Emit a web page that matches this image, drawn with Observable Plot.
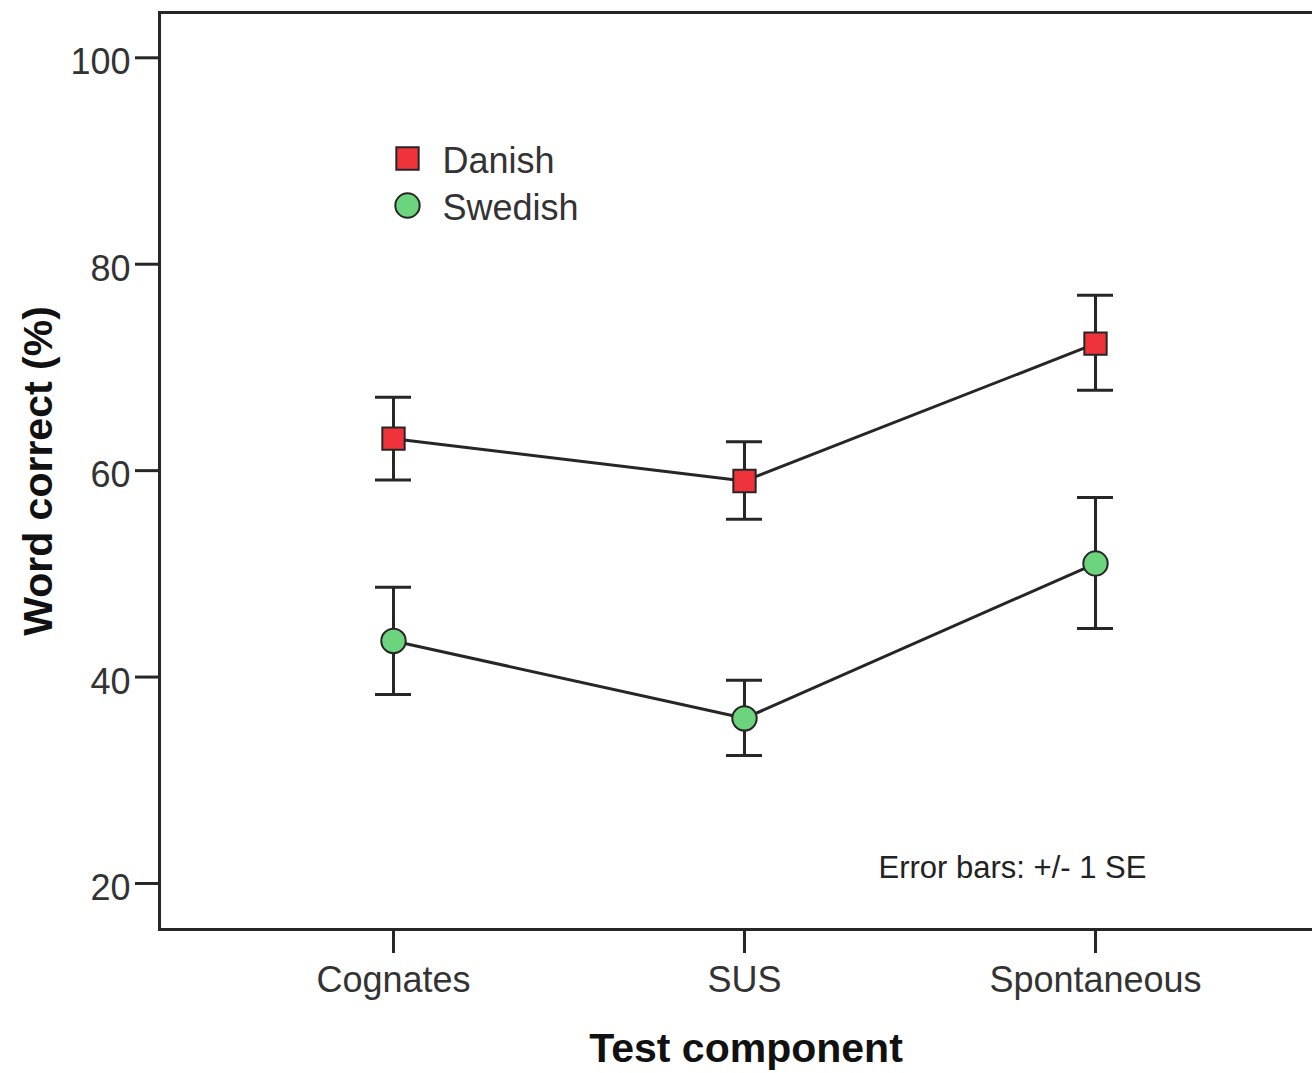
<!DOCTYPE html>
<html>
<head>
<meta charset="utf-8">
<script src="https://cdn.jsdelivr.net/npm/d3@7"></script>
<script src="https://cdn.jsdelivr.net/npm/@observablehq/plot@0.6"></script>
<style>
  html, body { margin: 0; padding: 0; background: #fff; }
  #chart svg { display: block; }
</style>
</head>
<body>
<div id="chart"></div>
<script>
// ---- data ----
const components = ["Cognates", "SUS", "Spontaneous"];
const groups = ["Danish", "Swedish"];
const danishMean  = [63.1, 59.0, 72.3];
const danishUpper = [67.1, 62.8, 77.0];
const danishLower = [59.1, 55.3, 67.8];
const swedishMean  = [43.5, 36.0, 51.0];
const swedishUpper = [48.7, 39.7, 57.4];
const swedishLower = [38.3, 32.4, 44.7];
const yTicks = [20, 40, 60, 80, 100];
const yTitle = "Word correct (%)";
const xTitle = "Test component";
const note = "Error bars: +/- 1 SE";

const colors = {Danish: "#f0333b", Swedish: "#6bd47d"};
const symbols = {Danish: "square", Swedish: "circle"};
const radii = {Danish: 12.6, Swedish: 12.2};

const rows = [];
components.forEach((c, i) => {
  rows.push({component: c, group: "Danish", mean: danishMean[i], lo: danishLower[i], hi: danishUpper[i]});
  rows.push({component: c, group: "Swedish", mean: swedishMean[i], lo: swedishLower[i], hi: swedishUpper[i]});
});

const ink = "#262626";
const font = "'Liberation Sans', Arial, sans-serif";

const dataDots = groups.map(g =>
  Plot.dot(rows.filter(d => d.group === g), {x: "component", y: "mean", symbol: symbols[g], r: radii[g],
    fill: colors[g], stroke: ink, strokeWidth: 2})
);

const legendMarks = groups.flatMap((g, i) => [
  Plot.dot([g], {frameAnchor: "top-left", dx: 248, dy: 146 + i * 47, symbol: symbols[g], r: radii[g],
    fill: colors[g], stroke: ink, strokeWidth: 2}),
  Plot.text([g], {frameAnchor: "top-left", dx: 283, dy: 149 + i * 47, text: d => d, textAnchor: "start",
    lineAnchor: "middle", fontSize: 36, fill: "#333"})
]);

const chart = Plot.plot({
  width: 1312,
  height: 1073,
  marginLeft: 159,
  marginRight: -20,
  marginTop: 12,
  marginBottom: 144,
  style: {fontFamily: font, background: "#fff", color: "#333"},
  x: {type: "point", domain: components, range: [393, 1095], padding: 0},
  y: {domain: [15.54, 104.39]},
  marks: [
    Plot.frame({stroke: ink, strokeWidth: 3}),
    Plot.axisY({ticks: yTicks, tickSize: 24, tickPadding: 5, fontSize: 36, label: null, strokeWidth: 3, stroke: ink, fill: "#333"}),
    Plot.axisX({tickSize: 24, tickPadding: 13, fontSize: 36, label: null, strokeWidth: 3, stroke: ink, fill: "#333"}),
    Plot.line(rows, {x: "component", y: "mean", z: "group", stroke: ink, strokeWidth: 3}),
    Plot.ruleX(rows, {x: "component", y1: "lo", y2: "hi", stroke: ink, strokeWidth: 3}),
    Plot.ruleY(rows, {x1: "component", x2: "component", y: "hi", insetLeft: -18, insetRight: -18, stroke: ink, strokeWidth: 3}),
    Plot.ruleY(rows, {x1: "component", x2: "component", y: "lo", insetLeft: -18, insetRight: -18, stroke: ink, strokeWidth: 3}),
    ...dataDots,
    ...legendMarks,
    Plot.text([yTitle], {frameAnchor: "left", dx: -121, rotate: -90, text: d => d, textAnchor: "middle", lineAnchor: "middle",
      fontSize: 41, fontWeight: "bold", fill: "#111"}),
    Plot.text([xTitle], {frameAnchor: "bottom", dy: 119, text: d => d, textAnchor: "middle", lineAnchor: "middle",
      fontSize: 41, fontWeight: "bold", fill: "#111"}),
    Plot.text([note], {frameAnchor: "bottom-left", dx: 719, dy: -61, text: d => d, textAnchor: "start", lineAnchor: "middle",
      fontSize: 31, fill: "#222"})
  ]
});
// nudge y tick labels slightly lower, as in the reference
chart.querySelectorAll("g[aria-label='y-axis tick label'] text").forEach(t => t.setAttribute("dy", "0.14em"));
document.getElementById("chart").append(chart);
</script>
</body>
</html>
